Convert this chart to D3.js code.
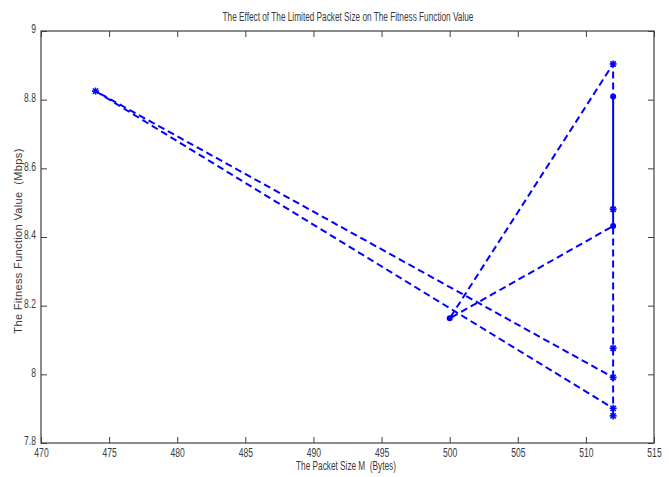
<!DOCTYPE html>
<html><head><meta charset="utf-8">
<script src="https://cdn.jsdelivr.net/npm/d3@7"></script>
<style>
html,body{margin:0;padding:0;background:#fff;}
text{font-family:"Liberation Sans",Arial,sans-serif;white-space:pre;}
</style></head>
<body>
<svg id="chart" width="669" height="477"></svg>
<script>
// Data
const xTicks = [470, 475, 480, 485, 490, 495, 500, 505, 510, 515];
const yTicks = [7.8, 8, 8.2, 8.4, 8.6, 8.8, 9];
const yTickLabels = ["7.8", "8", "8.2", "8.4", "8.6", "8.8", "9"];

// dashed path 1: from 474 down to 512 and back
const dash1X = [474, 512, 512, 512, 474];
const dash1Y = [8.825, 7.901, 7.879, 7.991, 8.825];
// dashed path 2
const dash2X = [512, 512, 512, 500, 512, 512];
const dash2Y = [7.991, 8.076, 8.432, 8.163, 8.904, 8.809];
// solid path
const solidX = [512, 512, 512];
const solidY = [8.809, 8.481, 8.432];

// marker points
const starX = [474, 512, 512, 512, 512, 512, 512];
const starY = [8.825, 8.904, 8.481, 8.076, 7.991, 7.901, 7.879];
const dotX = [512, 512, 500];
const dotY = [8.809, 8.432, 8.163];

const titleText = "The Effect of The Limited Packet Size on The Fitness Function Value";
const xLabelText = "The Packet Size M  (Bytes)";
const yLabelText = "The Fitness Function Value  (Mbps)";

const svg = d3.select("#chart");
const L = 41, R = 654, T = 31, B = 443;
const x = d3.scaleLinear().domain([470, 515]).range([L, R]);
const y = d3.scaleLinear().domain([7.8, 9]).range([B, T]);

const axisColor = "#404040";
const textColor = "#3a3a3a";
const blue = "#0000ff";
const SQ = 0.66; // horizontal squeeze for the narrow MATLAB font

// box
svg.append("rect").attr("x", L).attr("y", T).attr("width", R - L).attr("height", B - T)
  .attr("fill", "#fff").attr("stroke", axisColor).attr("stroke-width", 1.2);

// axes with inward ticks
const tickLen = 6;
const bottomAxis = d3.axisBottom(x).tickValues(xTicks).tickSizeInner(-tickLen).tickSizeOuter(0).tickPadding(3).tickFormat(d3.format("d"));
const topAxis = d3.axisTop(x).tickValues(xTicks).tickSizeInner(-tickLen).tickSizeOuter(0).tickFormat("");
const leftAxis = d3.axisLeft(y).tickValues(yTicks).tickSizeInner(-tickLen).tickSizeOuter(0).tickPadding(5).tickFormat((d, i) => yTickLabels[i]);
const rightAxis = d3.axisRight(y).tickValues(yTicks).tickSizeInner(-tickLen).tickSizeOuter(0).tickFormat("");

function styleAxis(g) {
  g.select(".domain").remove();
  g.selectAll(".tick line").attr("stroke", axisColor).attr("stroke-width", 1);
  g.selectAll(".tick text").attr("fill", textColor).attr("font-size", 13)
    .attr("font-family", "'Liberation Sans',Arial,sans-serif")
    .each(function () {
      const t = d3.select(this);
      const xv = +t.attr("x") || 0;
      t.attr("x", xv / SQ).attr("transform", `scale(${SQ},1)`);
    });
}
const gb = svg.append("g").attr("transform", `translate(0,${B})`).call(bottomAxis).call(styleAxis);
gb.selectAll(".tick text").attr("dy", "0.82em");
svg.append("g").attr("transform", `translate(0,${T})`).call(topAxis).call(styleAxis);
const gl = svg.append("g").attr("transform", `translate(${L},0)`).call(leftAxis).call(styleAxis);
gl.selectAll(".tick text").attr("dy", "0.15em");
svg.append("g").attr("transform", `translate(${R},0)`).call(rightAxis).call(styleAxis);

// lines
const line = d3.line().x(d => x(d[0])).y(d => y(d[1]));
function drawPath(xs, ys, dashed) {
  const pts = xs.map((v, i) => [v, ys[i]]);
  svg.append("path").datum(pts).attr("d", line)
    .attr("fill", "none").attr("stroke", blue).attr("stroke-width", 2)
    .attr("stroke-dasharray", dashed ? "7,4" : null)
    .attr("stroke-linejoin", "round");
}
drawPath(dash1X, dash1Y, true);
drawPath(dash2X, dash2Y, true);
drawPath(solidX, solidY, false);

// star markers (MATLAB '*')
const starPts = starX.map((v, i) => [x(v), y(starY[i])]);
const s = 3.5;
starPts.forEach(([px, py]) => {
  const g = svg.append("g").attr("stroke", blue).attr("stroke-width", 1.6);
  g.append("line").attr("x1", px - s).attr("x2", px + s).attr("y1", py).attr("y2", py);
  g.append("line").attr("x1", px).attr("x2", px).attr("y1", py - s).attr("y2", py + s);
  const d = s * 0.75;
  g.append("line").attr("x1", px - d).attr("x2", px + d).attr("y1", py - d).attr("y2", py + d);
  g.append("line").attr("x1", px - d).attr("x2", px + d).attr("y1", py + d).attr("y2", py - d);
});
// dot markers
svg.selectAll("circle.dot").data(dotX.map((v, i) => [v, dotY[i]])).enter().append("circle")
  .attr("class", "dot").attr("cx", d => x(d[0])).attr("cy", d => y(d[1])).attr("r", 3)
  .attr("fill", blue);

// title and labels (narrow font emulated by horizontal scaling)
svg.append("g").attr("transform", `translate(348,21) scale(${SQ},1)`)
  .append("text").attr("text-anchor", "middle")
  .attr("font-size", 12.5).attr("fill", textColor).text(titleText);
svg.append("g").attr("transform", `translate(346,470) scale(${SQ},1)`)
  .append("text").attr("text-anchor", "middle")
  .attr("font-size", 12.5).attr("fill", textColor).text(xLabelText);
svg.append("text").attr("transform", `translate(22,241) rotate(-90)`)
  .attr("text-anchor", "middle").attr("font-size", 11).attr("fill", textColor)
  .attr("letter-spacing", 0.35)
  .text(yLabelText);
</script>
</body></html>
